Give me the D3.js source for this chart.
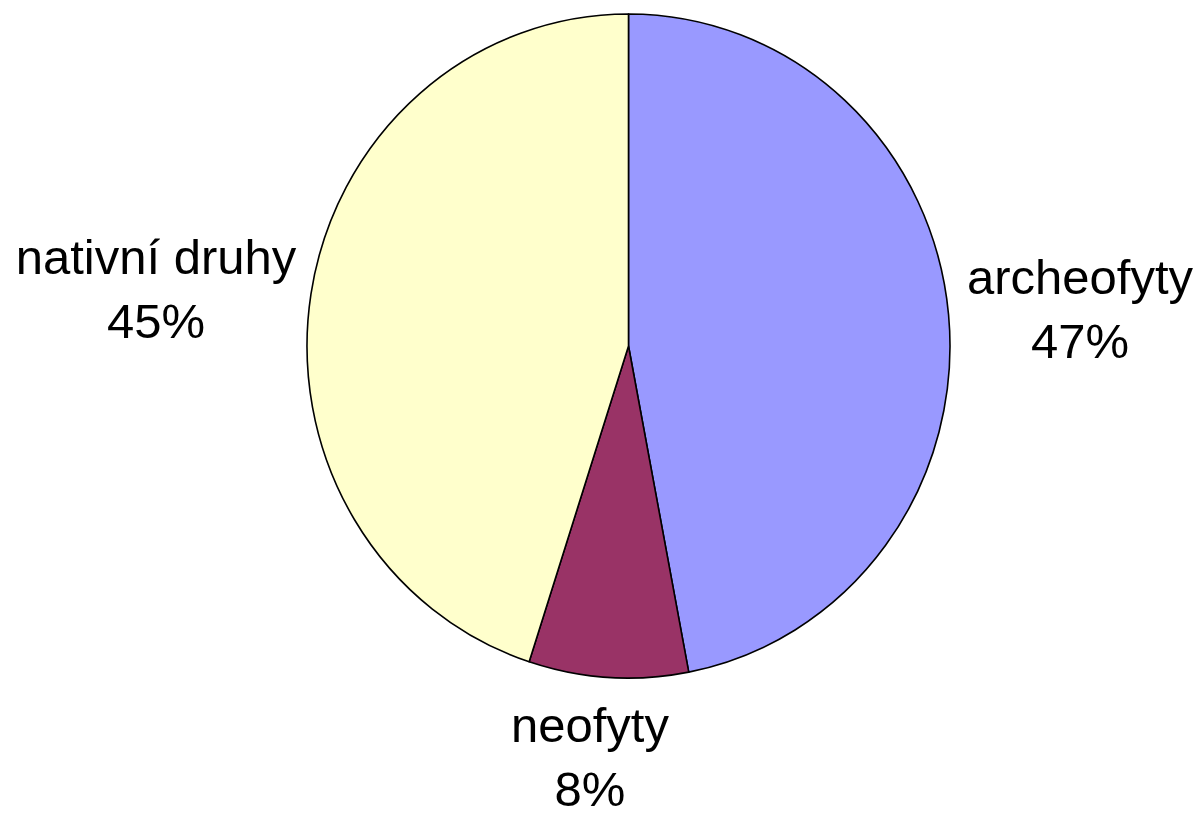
<!DOCTYPE html>
<html>
<head>
<meta charset="utf-8">
<script src="https://cdn.jsdelivr.net/npm/d3@7"></script>
<style>
  html, body { margin: 0; padding: 0; background: #ffffff; }
  svg { display: block; }
  text { font-family: "Liberation Sans", Arial, sans-serif; fill: #000; }
</style>
</head>
<body>
<svg id="chart" width="1200" height="816"></svg>
<script>
// Species composition (percent)
const categories = ["archeofyty", "neofyty", "nativní druhy"];
const values = [47, 8, 45];
const colors = ["#9999FF", "#993366", "#FFFFCC"];

const width = 1200, height = 816;
const cx = 628.5, cy = 346;
const rx = 321.5, ry = 332;

const svg = d3.select("#chart");

const pie = d3.pie().sort(null).value(d => d.value);
const data = pie(categories.map((c, i) => ({ name: c, value: values[i], color: colors[i] })));

const arc = d3.arc().innerRadius(0).outerRadius(rx);

const g = svg.append("g")
  .attr("transform", `translate(${cx},${cy}) scale(1,${ry / rx})`);

g.selectAll("path")
  .data(data)
  .join("path")
  .attr("d", arc)
  .attr("fill", d => d.data.color)
  .attr("stroke", "#000")
  .attr("stroke-width", 1.6)
  .attr("stroke-linejoin", "round")
  .attr("vector-effect", "non-scaling-stroke");

// Label anchor positions (name baseline) for each slice
const labelPos = {
  "archeofyty": [1080, 294],
  "neofyty": [590, 742],
  "nativní druhy": [156, 274]
};

const labels = svg.append("g").attr("font-size", 49);
data.forEach(d => {
  const [x, y] = labelPos[d.data.name];
  const t = labels.append("text")
    .attr("text-anchor", "middle")
    .attr("x", x).attr("y", y);
  t.append("tspan").attr("x", x).text(d.data.name);
  t.append("tspan").attr("x", x).attr("dy", 64).text(d3.format(".0f")(d.data.value) + "%");
});
</script>
</body>
</html>
